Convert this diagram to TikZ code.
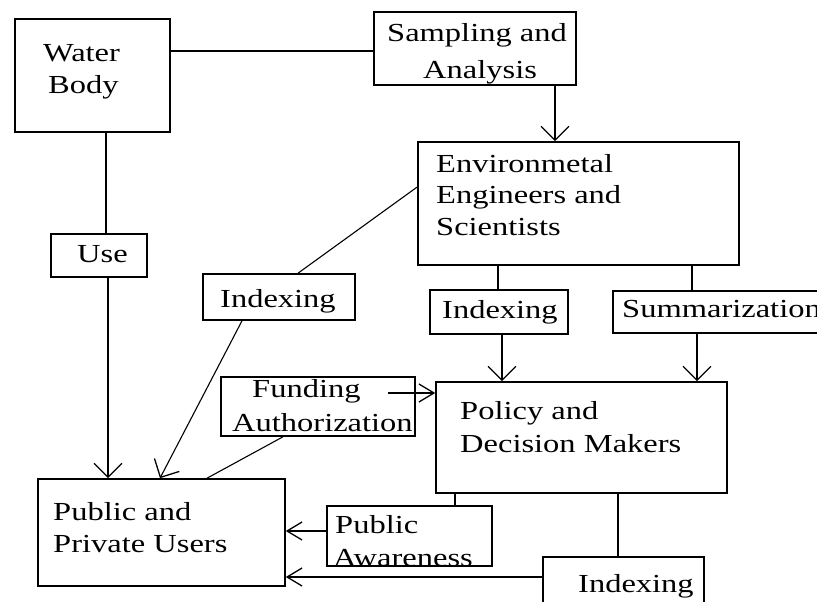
\documentclass[tikz,border=0pt]{standalone}
\usepackage{fontspec}
\setmainfont{Liberation Serif}
\usetikzlibrary{arrows.meta}
\newcommand{\wtxt}[1]{\scalebox{1.25}[1]{#1}}
\tikzset{
  box/.style={draw=black, line width=1.6pt, rectangle, inner sep=0pt, fill=none},
  lbl/.style={anchor=base west, inner sep=0pt, font=\fontsize{26pt}{32pt}\selectfont},
  ln/.style={draw=black, line width=1.5pt},
  dln/.style={draw=black, line width=1.1pt},
  arrD/.style={-{Straight Barb[length=14pt,width=28pt,line width=1.3pt]}},
  arrL/.style={-{Straight Barb[length=15pt,width=18pt,line width=1.3pt]}},
}
\begin{document}
\begin{tikzpicture}[x=1pt,y=-1pt]
\fill[white] (0,0) rectangle (817,602);
\clip (0,0) rectangle (817,602);
% boxes
\node[box, minimum width=155pt, minimum height=113pt] (water) at (92.5,75.5) {};
\node[box, minimum width=202pt, minimum height=73pt] (samp) at (475,48.5) {};
\node[box, minimum width=321pt, minimum height=123pt] (env) at (578.5,203.5) {};
\node[box, minimum width=96pt, minimum height=43pt] (use) at (99,255.5) {};
\node[box, minimum width=152pt, minimum height=46pt] (idxL) at (279,297) {};
\node[box, minimum width=138pt, minimum height=44pt] (idxM) at (499,312) {};
\node[box, minimum width=217pt, minimum height=42pt] (summ) at (721.5,312) {};
\node[box, minimum width=291pt, minimum height=111pt] (policy) at (581.5,437.5) {};
\node[box, minimum width=194pt, minimum height=59pt] (fund) at (318,406.5) {};
\node[box, minimum width=247pt, minimum height=107pt] (public) at (161.5,532.5) {};
\node[box, minimum width=165pt, minimum height=60pt] (pa) at (409.5,536) {};
\node[box, minimum width=161pt, minimum height=63pt] (idxB) at (623.5,588.5) {};
% texts
\node[lbl] (tw1) at (43,62) {\wtxt{Water}};
\node[lbl] (tw2) at (48,94) {\wtxt{Body}};
\node[lbl] (ts1) at (387,42) {\wtxt{Sampling and}};
\node[lbl] (ts2) at (423,78) {\wtxt{Analysis}};
\node[lbl] (te1) at (436,172) {\wtxt{Environmetal}};
\node[lbl] (te2) at (436,203) {\wtxt{Engineers and}};
\node[lbl] (te3) at (436,235) {\wtxt{Scientists}};
\node[lbl] (tu) at (77,262) {\wtxt{Use}};
\node[lbl] (til) at (220,307) {\wtxt{Indexing}};
\node[lbl] (tim) at (442,318) {\wtxt{Indexing}};
\node[lbl] (tsu) at (622,317) {\wtxt{Summarization}};
\node[lbl] (tf1) at (252,397) {\wtxt{Funding}};
\node[lbl] (tf2) at (232,431) {\wtxt{Authorization}};
\node[lbl] (tp1) at (460,419) {\wtxt{Policy and}};
\node[lbl] (tp2) at (460,452) {\wtxt{Decision Makers}};
\node[lbl] (tpu1) at (53,520) {\wtxt{Public and}};
\node[lbl] (tpu2) at (53,552) {\wtxt{Private Users}};
\node[lbl] (tpa1) at (335,533) {\wtxt{Public}};
\node[lbl] (tpa2) at (333,566) {\wtxt{Awareness}};
\node[lbl] (tib) at (578,592) {\wtxt{Indexing}};
% connectors
\draw[ln] (water.east |- 0,51) -- (samp.west |- 0,51);
\draw[ln] (water.south -| 106,0) -- (use.north -| 106,0);
\draw[ln,arrD] (use.south -| 108,0) -- (public.north -| 108,0);
\draw[ln,arrD] (samp.south -| 555,0) -- (env.north -| 555,0);
\draw[dln] (env.west |- 0,187) -- (idxL.north -| 298,0);
\draw[ln] (env.south -| 498,0) -- (idxM.north -| 498,0);
\draw[ln] (env.south -| 692,0) -- (summ.north -| 692,0);
\draw[ln,arrD] (idxM.south -| 502,0) -- (policy.north -| 502,0);
\draw[ln,arrD] (summ.south -| 697,0) -- (policy.north -| 697,0);
\draw[dln,arrD] (idxL.south -| 242,0) -- (public.north -| 160,0);
\coordinate (fstart) at (388,393);
\draw[ln,arrL] (fstart) -- (policy.west |- fstart);
\draw[dln] (fund.south -| 283,0) -- (public.north -| 207,0);
\draw[ln] (policy.south -| 455,0) -- (pa.north -| 455,0);
\draw[ln,arrL] (pa.west |- 0,531) -- (public.east |- 0,531);
\draw[ln] (policy.south -| 618,0) -- (idxB.north -| 618,0);
\draw[ln,arrL] (idxB.west |- 0,577) -- (public.east |- 0,577);
\end{tikzpicture}
\end{document}
